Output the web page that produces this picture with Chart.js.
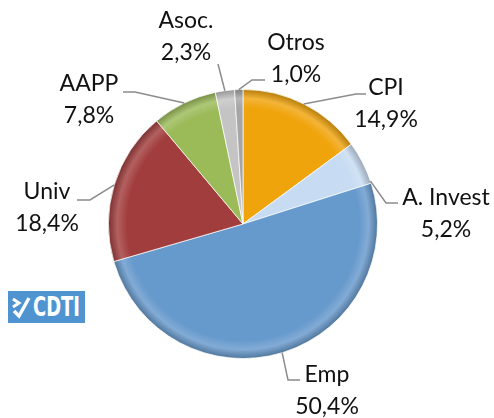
<!DOCTYPE html>
<html>
<head>
<meta charset="utf-8">
<script src="https://cdn.jsdelivr.net/npm/chart.js@4/dist/chart.umd.min.js"></script>
<style>
  html, body { margin: 0; padding: 0; background: #fff; }
  #wrap { position: relative; width: 494px; height: 418px; }
  #logo {
    position: absolute; left: 8px; top: 291px; width: 77px; height: 32px;
    background: #4f93d1; color: #fff; display: flex; align-items: center;
    font-family: "DejaVu Sans Condensed", "DejaVu Sans", sans-serif;
    font-weight: bold; font-size: 21px; letter-spacing: 0px;
  }
  #logo svg { margin: 0 2px 0 3px; }
  #logo span { display: inline-block; transform: scale(0.95, 1.3); transform-origin: left center; }
</style>
</head>
<body>
<div id="wrap">
  <canvas id="myChart" width="494" height="418"></canvas>
  <div id="logo">
    <svg width="20" height="24" viewBox="0 0 20 24">
      <path d="M2 4 L8 8 L2 12" fill="none" stroke="#fff" stroke-width="3"/>
      <path d="M3 16 L8 21 L18 3" fill="none" stroke="#fff" stroke-width="3.4"/>
    </svg><span>CDTI</span>
  </div>
</div>
<script>
// data
const categories = ['CPI', 'A. Invest', 'Emp', 'Univ', 'AAPP', 'Asoc.', 'Otros'];
const shares = [14.9, 5.2, 50.4, 18.4, 7.8, 2.3, 1.0];
const shareLabels = ['14,9%', '5,2%', '50,4%', '18,4%', '7,8%', '2,3%', '1,0%'];
const sliceColors = ['#f0a40c', '#c7dcf2', '#6699cc', '#a23d3d', '#9bbb59', '#c4c4c4', '#a6a6a6'];

// where each label sits (text block centre, leader bend and end)
const labelLayout = [
    { x: 386, y: 88,  bend: [356, 94],  end: [366, 94] },
    { x: 446, y: 198, bend: [386, 203], end: [398, 203], at: 0.95 },
    { x: 327, y: 375, bend: [288, 380], end: [300, 380] },
    { x: 47,  y: 192, bend: [90, 200],  end: [77, 200] },
    { x: 89,  y: 84,  bend: [135, 92],  end: [123, 92] },
    { x: 186, y: 21,  bend: [218, 64],  end: [218, 64] },
    { x: 296, y: 43,  bend: [252, 80],  end: [265, 80] },
];

const shade = (hex, amt) => {
    const n = parseInt(hex.slice(1), 16);
    let r = n >> 16, g = (n >> 8) & 255, b = n & 255;
    const f = c => Math.round(amt > 0 ? c + (255 - c) * amt : c * (1 + amt));
    return `rgb(${f(r)},${f(g)},${f(b)})`;
};

// bevel-ish radial fill
const bevelFill = (ctx) => {
    const base = sliceColors[ctx.dataIndex];
    const area = ctx.chart.chartArea;
    if (!area) return base;
    const cx = (area.left + area.right) / 2;
    const cy = (area.top + area.bottom) / 2;
    const r = Math.min(area.right - area.left, area.bottom - area.top) / 2;
    const g = ctx.chart.ctx.createRadialGradient(cx, cy, 0, cx, cy, r);
    g.addColorStop(0, base);
    g.addColorStop(0.86, base);
    g.addColorStop(0.93, shade(base, 0.18));
    g.addColorStop(1, shade(base, -0.25));
    return g;
};

// outside labels with leader lines
const outsideLabels = {
    id: 'outsideLabels',
    afterDatasetsDraw(chart) {
        const ctx = chart.ctx;
        const arcs = chart.getDatasetMeta(0).data;
        ctx.save();
        arcs.forEach((arc, i) => {
            const lay = labelLayout[i];
            const p = arc.getProps(['x', 'y', 'startAngle', 'endAngle', 'outerRadius'], true);
            const f = lay.at !== undefined ? lay.at : 0.5;
            const a = p.startAngle + (p.endAngle - p.startAngle) * f;
            const ax = p.x + Math.cos(a) * p.outerRadius;
            const ay = p.y + Math.sin(a) * p.outerRadius;
            ctx.strokeStyle = '#8c8c8c';
            ctx.lineWidth = 1.5;
            ctx.beginPath();
            ctx.moveTo(ax, ay);
            ctx.lineTo(lay.bend[0], lay.bend[1]);
            ctx.lineTo(lay.end[0], lay.end[1]);
            ctx.stroke();

            ctx.fillStyle = '#111';
            ctx.font = '23px Lato, "Open Sans", sans-serif';
            ctx.textAlign = 'center';
            ctx.textBaseline = 'middle';
            ctx.fillText(categories[i], lay.x, lay.y);
            ctx.fillText(shareLabels[i], lay.x, lay.y + 32);
        });
        ctx.restore();
    }
};

const chartCtx = document.getElementById('myChart');

const pieChart = new Chart(chartCtx, {
    type: 'pie',
    data: {
        labels: categories,
        datasets: [{
            data: shares,
            backgroundColor: bevelFill,
            borderColor: 'rgba(255,255,255,0.7)',
            borderWidth: 1,
        }]
    },
    options: {
        responsive: false,
        animation: false,
        layout: { padding: { left: 108, right: 116, top: 89, bottom: 59 } },
        plugins: {
            legend: { display: false },
            tooltip: { enabled: false },
        }
    },
    plugins: [outsideLabels]
});
</script>
</body>
</html>
